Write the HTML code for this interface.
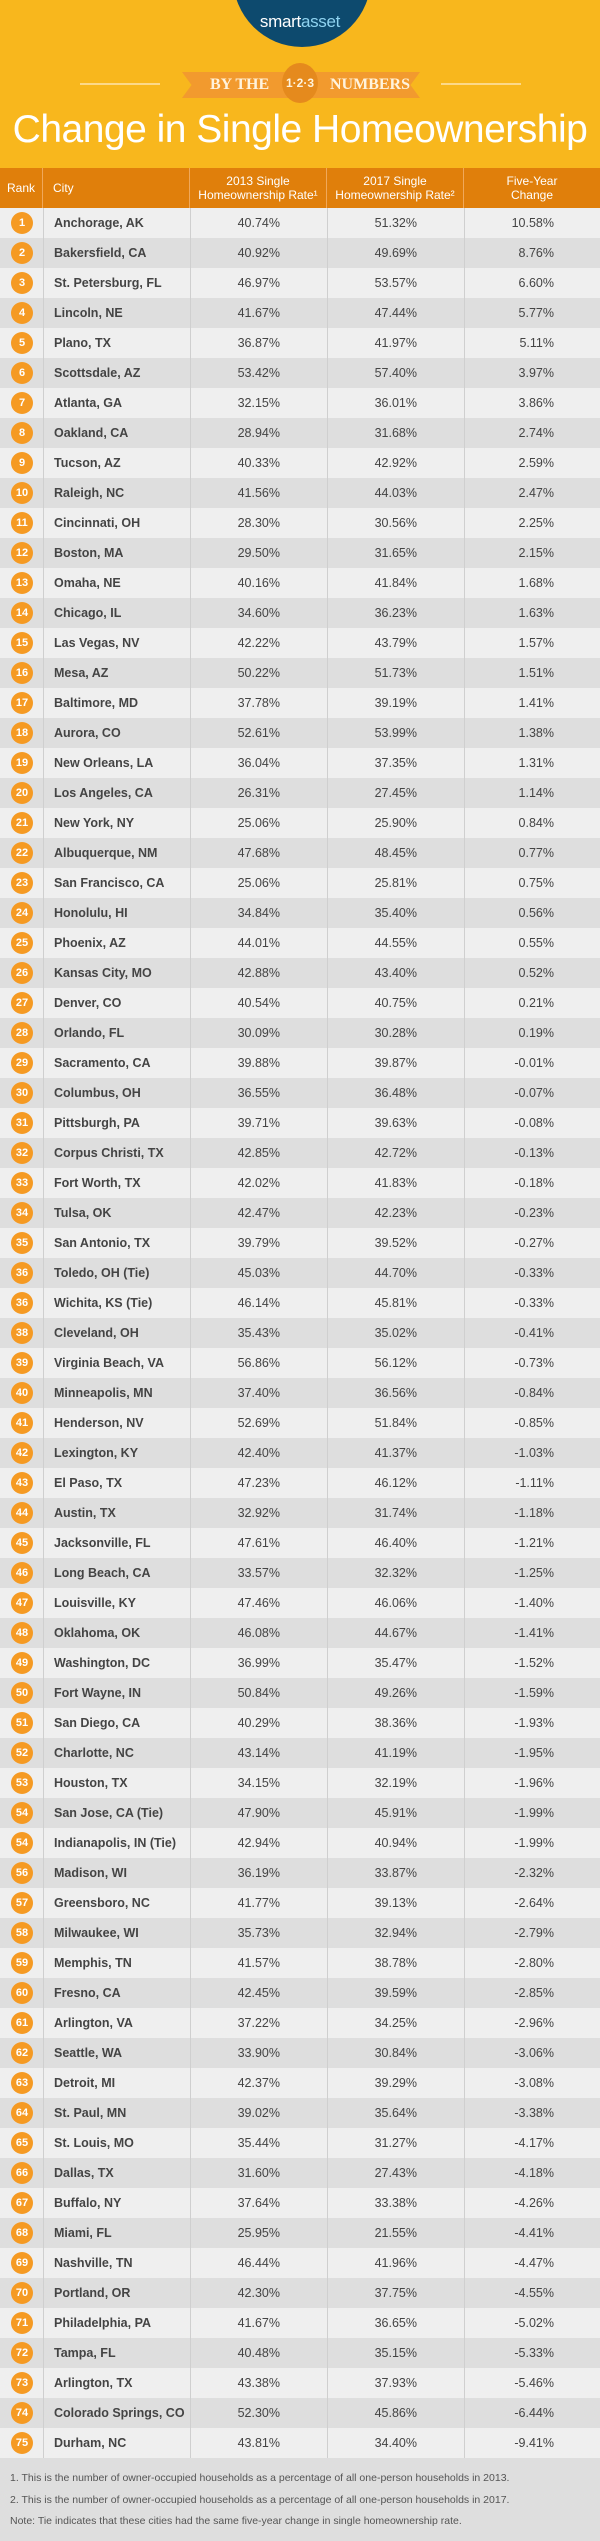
<!DOCTYPE html>
<html><head><meta charset="utf-8">
<style>
*{margin:0;padding:0;box-sizing:border-box}
body{width:600px;height:2541px;background:#DEDEDE;font-family:"Liberation Sans",sans-serif;position:relative;overflow:hidden}
#hdr{position:absolute;left:0;top:0;width:600px;height:168px;background:#F8B71D}
#logo{position:absolute;left:233px;top:-92px;width:138px;height:139px;border-radius:50%;background:#0D4A6E}
#logotxt{position:absolute;left:0;top:12px;width:600px;text-align:center;color:#fff;font-size:17px;letter-spacing:-0.3px}
.ln{position:absolute;top:83px;height:2px;background:#FCD98A}
#ribbon{position:absolute;left:182px;top:72px;width:238px;height:26px;background:#F29A2E;clip-path:polygon(0 0,100% 0,96% 50%,100% 100%,0 100%,4% 50%)}
#bythe{position:absolute;left:210px;top:76px;color:#FFF3DC;font-family:"Liberation Serif",serif;font-weight:bold;font-size:16px}
#nums{position:absolute;left:330px;top:76px;color:#FFF3DC;font-family:"Liberation Serif",serif;font-weight:bold;font-size:16px}
#medal{position:absolute;left:282px;top:63px;width:36px;height:40px;border-radius:50%;background:#E58A1D;color:#FFF3DC;font-size:12px;font-weight:bold;text-align:center;line-height:40px}
#title{position:absolute;left:0;top:108px;width:600px;text-align:center;color:#fff;font-size:39px;letter-spacing:-0.5px}
#thead{position:absolute;left:0;top:168px;width:600px;height:40px;background:#E07F0B;color:#fff;font-size:12px}
.th{position:absolute;top:0;height:40px;display:flex;align-items:center;justify-content:center;text-align:center;line-height:14px;border-right:1px solid #F0A85A}
.row{position:absolute;left:0;width:600px;height:30px;font-size:12.5px;color:#444}
.cell{position:absolute;top:0;height:30px;line-height:30px}
.circ{position:absolute;left:11px;top:4px;width:22px;height:22px;border-radius:50%;background:#F59A23;color:#fff;font-weight:bold;font-size:11px;text-align:center;line-height:22px}
.vl{position:absolute;top:168px;width:1px;height:2290px;background:#CFCFCF}
#foot{position:absolute;left:10px;top:2468px;font-size:10.5px;color:#555;line-height:21.5px}
</style></head><body>
<div id="hdr">
 <div id="logo"></div>
 <div id="logotxt">smart<span style="color:#8FD3F0">asset</span></div>
 <div class="ln" style="left:80px;width:80px"></div>
 <div class="ln" style="left:441px;width:80px"></div>
 <div id="ribbon"></div>
 <div id="bythe">BY THE</div>
 <div id="medal">1·2·3</div>
 <div id="nums">NUMBERS</div>
 <div id="title">Change in Single Homeownership</div>
</div>
<div id="thead">
 <div class="th" style="left:0;width:43px">Rank</div>
 <div class="th" style="left:43px;width:147px;justify-content:flex-start;padding-left:10px">City</div>
 <div class="th" style="left:190px;width:137px">2013 Single<br>Homeownership Rate¹</div>
 <div class="th" style="left:327px;width:137px">2017 Single<br>Homeownership Rate²</div>
 <div class="th" style="left:464px;width:136px;border-right:none">Five-Year<br>Change</div>
</div>
<div id="rows"></div>
<div id="foot">1. This is the number of owner-occupied households as a percentage of all one-person households in 2013.<br>2. This is the number of owner-occupied households as a percentage of all one-person households in 2017.<br>Note: Tie indicates that these cities had the same five-year change in single homeownership rate.</div>
<script>
const ranks=[1,2,3,4,5,6,7,8,9,10,11,12,13,14,15,16,17,18,19,20,21,22,23,24,25,26,27,28,29,30,31,32,33,34,35,36,36,38,39,40,41,42,43,44,45,46,47,48,49,50,51,52,53,54,54,56,57,58,59,60,61,62,63,64,65,66,67,68,69,70,71,72,73,74,75];
const cities=["Anchorage, AK","Bakersfield, CA","St. Petersburg, FL","Lincoln, NE","Plano, TX","Scottsdale, AZ","Atlanta, GA","Oakland, CA","Tucson, AZ","Raleigh, NC","Cincinnati, OH","Boston, MA","Omaha, NE","Chicago, IL","Las Vegas, NV","Mesa, AZ","Baltimore, MD","Aurora, CO","New Orleans, LA","Los Angeles, CA","New York, NY","Albuquerque, NM","San Francisco, CA","Honolulu, HI","Phoenix, AZ","Kansas City, MO","Denver, CO","Orlando, FL","Sacramento, CA","Columbus, OH","Pittsburgh, PA","Corpus Christi, TX","Fort Worth, TX","Tulsa, OK","San Antonio, TX","Toledo, OH (Tie)","Wichita, KS (Tie)","Cleveland, OH","Virginia Beach, VA","Minneapolis, MN","Henderson, NV","Lexington, KY","El Paso, TX","Austin, TX","Jacksonville, FL","Long Beach, CA","Louisville, KY","Oklahoma, OK","Washington, DC","Fort Wayne, IN","San Diego, CA","Charlotte, NC","Houston, TX","San Jose, CA (Tie)","Indianapolis, IN (Tie)","Madison, WI","Greensboro, NC","Milwaukee, WI","Memphis, TN","Fresno, CA","Arlington, VA","Seattle, WA","Detroit, MI","St. Paul, MN","St. Louis, MO","Dallas, TX","Buffalo, NY","Miami, FL","Nashville, TN","Portland, OR","Philadelphia, PA","Tampa, FL","Arlington, TX","Colorado Springs, CO","Durham, NC"];
const rate2013=[40.74,40.92,46.97,41.67,36.87,53.42,32.15,28.94,40.33,41.56,28.30,29.50,40.16,34.60,42.22,50.22,37.78,52.61,36.04,26.31,25.06,47.68,25.06,34.84,44.01,42.88,40.54,30.09,39.88,36.55,39.71,42.85,42.02,42.47,39.79,45.03,46.14,35.43,56.86,37.40,52.69,42.40,47.23,32.92,47.61,33.57,47.46,46.08,36.99,50.84,40.29,43.14,34.15,47.90,42.94,36.19,41.77,35.73,41.57,42.45,37.22,33.90,42.37,39.02,35.44,31.60,37.64,25.95,46.44,42.30,41.67,40.48,43.38,52.30,43.81];
const rate2017=[51.32,49.69,53.57,47.44,41.97,57.40,36.01,31.68,42.92,44.03,30.56,31.65,41.84,36.23,43.79,51.73,39.19,53.99,37.35,27.45,25.90,48.45,25.81,35.40,44.55,43.40,40.75,30.28,39.87,36.48,39.63,42.72,41.83,42.23,39.52,44.70,45.81,35.02,56.12,36.56,51.84,41.37,46.12,31.74,46.40,32.32,46.06,44.67,35.47,49.26,38.36,41.19,32.19,45.91,40.94,33.87,39.13,32.94,38.78,39.59,34.25,30.84,39.29,35.64,31.27,27.43,33.38,21.55,41.96,37.75,36.65,35.15,37.93,45.86,34.40];
const change=["10.58","8.76","6.60","5.77","5.11","3.97","3.86","2.74","2.59","2.47","2.25","2.15","1.68","1.63","1.57","1.51","1.41","1.38","1.31","1.14","0.84","0.77","0.75","0.56","0.55","0.52","0.21","0.19","-0.01","-0.07","-0.08","-0.13","-0.18","-0.23","-0.27","-0.33","-0.33","-0.41","-0.73","-0.84","-0.85","-1.03","-1.11","-1.18","-1.21","-1.25","-1.40","-1.41","-1.52","-1.59","-1.93","-1.95","-1.96","-1.99","-1.99","-2.32","-2.64","-2.79","-2.80","-2.85","-2.96","-3.06","-3.08","-3.38","-4.17","-4.18","-4.26","-4.41","-4.47","-4.55","-5.02","-5.33","-5.46","-6.44","-9.41"];
const wrap=document.getElementById('rows');
cities.forEach((c,i)=>{
 const r=document.createElement('div');
 r.className='row';
 r.style.top=(208+i*30)+'px';
 r.style.background=i%2?'#DEDEDE':'#EFEFEF';
 
 
 const circ=document.createElement('div');circ.className='circ';circ.textContent=ranks[i];
 
 
 const city=document.createElement('div');city.className='cell';city.style.left='54px';city.style.fontWeight='bold';city.textContent=c;
 
 
 r.appendChild(circ);r.appendChild(city);
 [[190,rate2013[i].toFixed(2)+'%','rate-2013'],[327,rate2017[i].toFixed(2)+'%','rate-2017'],[464,change[i]+'%','five-year-change']].forEach(([x,t,n])=>{
  const d=document.createElement('div');d.className='cell';
  d.style.left=x+'px';d.style.width='90px';d.style.textAlign='right';d.textContent=t;
  
  
  r.appendChild(d);
 });
 wrap.appendChild(r);
});
[43,190,327,464].forEach(x=>{
 const v=document.createElement('div');v.className='vl';v.style.left=x+'px';
 v.style.top='208px';v.style.height='2250px';
 
 
 document.body.appendChild(v);
});
</script>
</body></html>
